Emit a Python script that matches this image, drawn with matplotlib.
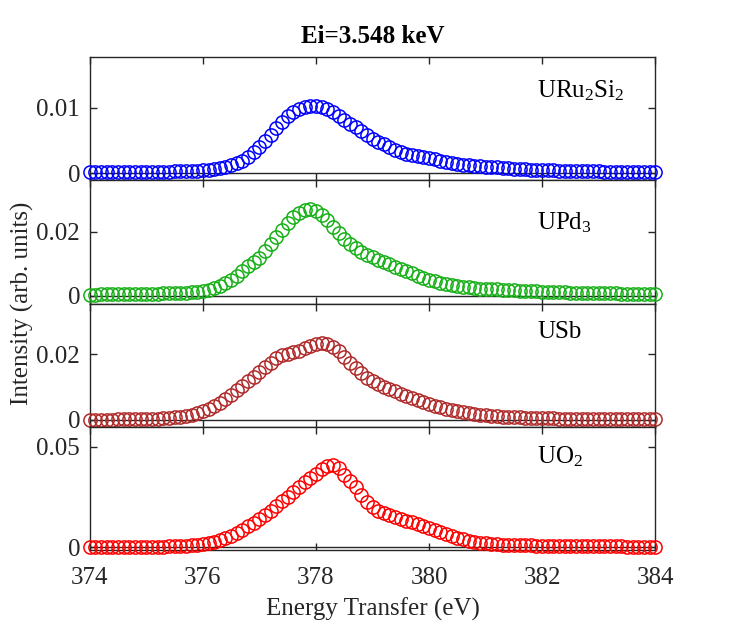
import numpy as np
import matplotlib
matplotlib.use('Agg')
import matplotlib.pyplot as plt

plt.rcParams['font.family'] = ['Liberation Serif', 'DejaVu Serif']
plt.rcParams['mathtext.fontset'] = 'custom'
plt.rcParams['mathtext.rm'] = 'Liberation Serif'
plt.rcParams['mathtext.it'] = 'Liberation Serif:italic'

# %% data (intensities in units of 1e-3)

energy = np.linspace(374, 384, 101)

uru2si2 = [0.1, 0.1, 0.1, 0.1, 0.1, 0.1, 0.1, 0.1, 0.15, 0.15,
           0.15, 0.2, 0.2, 0.2, 0.2, 0.25, 0.25, 0.3, 0.3, 0.35,
           0.4, 0.5, 0.6, 0.75, 0.95, 1.2, 1.5, 1.9, 2.5, 3.2,
           4.0, 4.9, 5.9, 6.9, 7.8, 8.7, 9.3, 9.8, 10.1, 10.3,
           10.3, 10.1, 9.8, 9.3, 8.8, 8.2, 7.6, 7.0, 6.4, 5.8,
           5.2, 4.8, 4.4, 4.0, 3.6, 3.3, 3.0, 2.8, 2.6, 2.4,
           2.3, 2.1, 1.9, 1.7, 1.55, 1.4, 1.3, 1.2, 1.1, 1.05,
           1.0, 0.95, 0.9, 0.85, 0.8, 0.7, 0.65, 0.6, 0.55, 0.5,
           0.45, 0.4, 0.4, 0.35, 0.35, 0.3, 0.3, 0.3, 0.25, 0.25,
           0.25, 0.2, 0.2, 0.2, 0.2, 0.15, 0.15, 0.15, 0.15, 0.1,
           0.1]

upd3 = [0.3, 0.3, 0.35, 0.35, 0.4, 0.4, 0.45, 0.45, 0.5, 0.5,
        0.55, 0.6, 0.6, 0.65, 0.7, 0.75, 0.8, 0.9, 1.0, 1.2,
        1.5, 1.8, 2.3, 2.9, 3.8, 4.9, 6.2, 7.6, 9.1, 10.5,
        11.8, 14.0, 16.2, 18.3, 20.5, 22.6, 24.4, 25.8, 26.7, 27.0,
        26.5, 25.2, 23.5, 21.5, 19.5, 17.6, 16.1, 14.8, 13.6, 12.7,
        11.9, 11.1, 10.4, 9.7, 9.0, 8.3, 7.6, 6.9, 6.2, 5.6,
        4.9, 4.4, 3.9, 3.5, 3.3, 3.1, 2.8, 2.6, 2.4, 2.2,
        2.1, 2.0, 1.9, 1.8, 1.7, 1.6, 1.5, 1.45, 1.4, 1.3,
        1.25, 1.2, 1.1, 1.05, 1.0, 0.95, 0.9, 0.85, 0.8, 0.8,
        0.75, 0.7, 0.7, 0.65, 0.6, 0.6, 0.55, 0.5, 0.5, 0.45,
        0.45]

usb = [0.1, 0.1, 0.1, 0.1, 0.1, 0.15, 0.15, 0.2, 0.2, 0.25,
       0.3, 0.35, 0.4, 0.5, 0.6, 0.8, 1.0, 1.3, 1.6, 2.0,
       2.6, 3.3, 4.2, 5.3, 6.5, 7.7, 9.0, 10.3, 11.8, 13.0,
       14.5, 16.0, 17.5, 18.9, 19.7, 20.2, 20.6, 21.1, 21.8, 22.6,
       23.2, 23.5, 23.3, 22.4, 20.9, 19.2, 17.4, 15.7, 14.2, 12.9,
       11.9, 11.0, 10.2, 9.5, 8.7, 8.0, 7.3, 6.6, 6.0, 5.4,
       4.8, 4.3, 3.8, 3.3, 2.9, 2.6, 2.3, 2.0, 1.8, 1.6,
       1.4, 1.25, 1.1, 1.0, 0.9, 0.8, 0.75, 0.7, 0.65, 0.6,
       0.55, 0.5, 0.45, 0.4, 0.4, 0.35, 0.35, 0.3, 0.3, 0.3,
       0.25, 0.25, 0.25, 0.2, 0.2, 0.2, 0.2, 0.2, 0.15, 0.15,
       0.15]

uo2 = [0.1, 0.1, 0.1, 0.1, 0.15, 0.15, 0.15, 0.2, 0.2, 0.2,
       0.25, 0.25, 0.3, 0.3, 0.35, 0.4, 0.5, 0.6, 0.8, 1.0,
       1.4, 1.8, 2.5, 3.3, 4.4, 5.6, 7.0, 8.6, 10.3, 12.0,
       13.8, 15.9, 18.2, 20.6, 22.8, 25.0, 27.5, 30.0, 32.5, 34.7,
       36.7, 39.0, 40.6, 41.0, 39.5, 35.8, 33.0, 30.0, 26.0, 22.4,
       20.0, 18.0, 16.8, 15.8, 14.9, 14.0, 13.2, 12.4, 11.5, 10.6,
       9.6, 8.6, 7.5, 6.5, 5.5, 4.5, 3.8, 3.1, 2.5, 2.1,
       1.8, 1.5, 1.3, 1.15, 1.0, 0.95, 0.9, 0.85, 0.8, 0.75,
       0.7, 0.65, 0.6, 0.6, 0.55, 0.5, 0.5, 0.45, 0.45, 0.4,
       0.4, 0.4, 0.35, 0.35, 0.35, 0.3, 0.3, 0.3, 0.3, 0.3,
       0.3]

series = [uru2si2, upd3, usb, uo2]
names = ['URu$_2$Si$_2$', 'UPd$_3$', 'USb', 'UO$_2$']
colors = ['#0000ff', '#18b018', '#b02a2a', '#ff0000']
ylims = [(-0.0011, 0.0178), (-0.0025, 0.036), (-0.0021, 0.0355), (-0.0015, 0.060)]
yticks = [[0, 0.01], [0, 0.02], [0, 0.02], [0, 0.05]]
label_y = [0.675, 0.60, 0.718, 0.70]

# %% plot

fig = plt.figure(figsize=(7.48, 6.23), dpi=100)
left, right, top, bottom = 0.120, 0.876, 0.9085, 0.117
h = (top - bottom) / 4
frame = '#262626'

axes = []
for i in range(4):
    ax = fig.add_axes([left, top - (i + 1) * h, right - left, h])
    ax.plot(energy, np.array(series[i]) * 1e-3, 'o', mfc='none', mec=colors[i],
            ms=9.5, mew=1.1, clip_on=False, zorder=3)
    ax.axhline(0, color=frame, lw=1.0, zorder=2)
    ax.set_xlim(374, 384)
    ax.set_ylim(*ylims[i])
    ax.set_yticks(yticks[i])
    ax.set_yticklabels(['0', '%g' % yticks[i][1]])
    ax.set_xticks(np.arange(374, 385, 2))
    ax.tick_params(direction='in', top=True, right=True, length=5, width=1,
                   labelsize=18, colors=frame)
    ax.tick_params(axis='y', pad=7)
    ax.tick_params(axis='x', pad=12)
    for s in ax.spines.values():
        s.set_color(frame)
        s.set_linewidth(1.0)
    if i < 3:
        ax.set_xticklabels([])
    ax.text(0.791, label_y[i], names[i], transform=ax.transAxes,
            fontsize=18, va='baseline', ha='left', color='black')
    axes.append(ax)

axes[0].set_title('Ei=3.548 keV', fontsize=18, fontweight='bold', pad=10)
axes[3].set_xlabel('Energy Transfer (eV)', fontsize=18, color=frame, labelpad=6)
fig.text(0.03, (top + bottom) / 2, 'Intensity (arb. units)', rotation=90,
         fontsize=18, va='center', ha='center', color=frame)

fig.savefig('out.png', dpi=100)
